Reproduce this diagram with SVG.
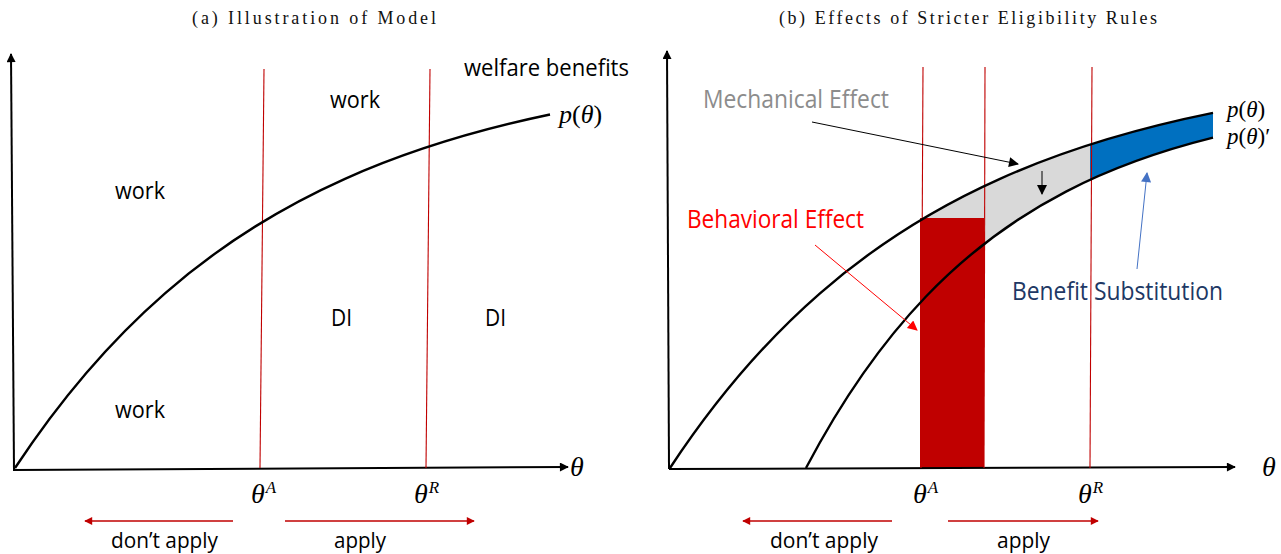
<svg xmlns="http://www.w3.org/2000/svg" width="1281" height="554" viewBox="0 0 1281 554">
<style>
.title{font-family:"Liberation Serif",serif;font-size:18px;fill:#111}
.lbl{font-family:"Open Sans","Noto Sans",sans-serif;font-size:24px;fill:#000}
.big{font-family:"Open Sans","Noto Sans",sans-serif;font-size:25px}
.small{font-family:"Open Sans","Noto Sans",sans-serif;font-size:21px;fill:#000}
.math{font-family:"Liberation Serif",serif;font-size:26px;fill:#000}
.mathb{font-family:"Liberation Serif",serif;font-size:23px;fill:#000}
.ax{font-family:"Liberation Serif",serif;font-size:28px;font-style:italic;fill:#000}
.th{font-family:"Liberation Serif",serif;font-size:28px;fill:#000}
.it{font-style:italic}
.sup{font-family:"Liberation Serif",serif;font-size:17px;font-style:italic}
.axis{stroke:#000;stroke-width:2;fill:none}
.curve{stroke:#000;stroke-width:2.4;fill:none}
.rl{stroke:#c00000;stroke-width:1.1;fill:none}
.ra{stroke:#c00000;stroke-width:1.3;fill:none}
</style>
<defs>
<marker id="ahAxis" viewBox="0 0 10 10" refX="9" refY="5" markerWidth="11" markerHeight="9" markerUnits="userSpaceOnUse" orient="auto"><path d="M0,0 L10,5 L0,10 z" fill="#000"/></marker>
<marker id="ahBlack" viewBox="0 0 10 10" refX="9" refY="5" markerWidth="12" markerHeight="10" markerUnits="userSpaceOnUse" orient="auto"><path d="M0,0 L10,5 L0,10 z" fill="#000"/></marker>
<marker id="ahRed" viewBox="0 0 10 10" refX="9" refY="5" markerWidth="9" markerHeight="8" markerUnits="userSpaceOnUse" orient="auto"><path d="M0,0 L10,5 L0,10 z" fill="#c00000"/></marker>
<marker id="ahBright" viewBox="0 0 10 10" refX="9" refY="5" markerWidth="12" markerHeight="10" markerUnits="userSpaceOnUse" orient="auto"><path d="M0,0 L10,5 L0,10 z" fill="#ff0000"/></marker>
<marker id="ahBlue" viewBox="0 0 10 10" refX="9" refY="5" markerWidth="12" markerHeight="10" markerUnits="userSpaceOnUse" orient="auto"><path d="M0,0 L10,5 L0,10 z" fill="#4472c4"/></marker>
<clipPath id="clipGray"><rect x="921" y="0" width="169" height="554"/></clipPath>
<clipPath id="clipBlue"><rect x="1090" y="0" width="123" height="554"/></clipPath>
<path id="band" d="M670,468 C720,392.1 770,336.9 820,293.3 C880,241 940,205.6 1000,178.8 C1071,147 1142,127.3 1213,112.9 L1213,137.7 C1164,149.9 1115,166.2 1066,191.6 C1019.3,215.8 972.7,247.8 926,296.5 C886,338.2 846,392 806,468 Z"/>
</defs>

<g id="titles">
<text class="title" x="192" y="24" textLength="244" lengthAdjust="spacing">(a) Illustration of Model</text>
<text class="title" x="779" y="24" textLength="378" lengthAdjust="spacing">(b) Effects of Stricter Eligibility Rules</text>
</g>

<g id="panel-a">
<g id="a-axes">
<path class="axis" d="M14,470 L11,54" marker-end="url(#ahAxis)"/>
<path class="axis" d="M13,470 L568,467" marker-end="url(#ahAxis)"/>
</g>
<g id="a-thresholds">
<path class="rl" d="M264,69 L260,468"/>
<path class="rl" d="M430,69 L426,468"/>
</g>
<path id="a-curve" class="curve" d="M15,468 C65,392.1 115,336.9 165,293.3 C225,241 285,205.6 345,178.8 C413.3,148.2 481.7,128.8 550,114.5"/>
<g id="a-labels">
<text class="lbl" x="330" y="108" textLength="50" lengthAdjust="spacingAndGlyphs">work</text>
<text class="lbl" x="115" y="199" textLength="50" lengthAdjust="spacingAndGlyphs">work</text>
<text class="lbl" x="115" y="418" textLength="50" lengthAdjust="spacingAndGlyphs">work</text>
<text class="lbl" x="331" y="326" textLength="21" lengthAdjust="spacingAndGlyphs">DI</text>
<text class="lbl" x="485" y="326" textLength="21" lengthAdjust="spacingAndGlyphs">DI</text>
<text class="lbl" x="464" y="76" textLength="165" lengthAdjust="spacingAndGlyphs">welfare benefits</text>
<text class="math" x="559" y="123"><tspan class="it">p</tspan>(<tspan class="it">θ</tspan>)</text>
<text class="ax" x="570" y="476">θ</text>
<text class="th" x="251" y="503"><tspan class="it">θ</tspan><tspan class="sup" dx="1" dy="-10">A</tspan></text>
<text class="th" x="414" y="503"><tspan class="it">θ</tspan><tspan class="sup" dx="1" dy="-10">R</tspan></text>
</g>
<g id="a-apply">
<path class="ra" d="M233,521 L85,521" marker-end="url(#ahRed)"/>
<path class="ra" d="M285,521 L474,521" marker-end="url(#ahRed)"/>
<text class="small" x="111" y="548" textLength="107" lengthAdjust="spacingAndGlyphs">don’t apply</text>
<text class="small" x="334" y="548" textLength="52" lengthAdjust="spacingAndGlyphs">apply</text>
</g>
</g>

<g id="panel-b">
<g id="b-areas">
<use href="#band" fill="#d9d9d9" clip-path="url(#clipGray)"/>
<use href="#band" fill="#0070c0" clip-path="url(#clipBlue)"/>
<rect id="b-behavioral-box" x="920" y="218" width="64" height="250" fill="#c00000"/>
</g>
<g id="b-axes">
<path class="axis" d="M669,469 L667,51" marker-end="url(#ahAxis)"/>
<path class="axis" d="M669,469 L1235,467" marker-end="url(#ahAxis)"/>
</g>
<g id="b-thresholds">
<path class="rl" d="M923,67 L921,468"/>
<path class="rl" d="M985,67 L984,468"/>
<path class="rl" d="M1092,67 L1090,468"/>
</g>
<path id="b-curve-p" class="curve" d="M670,468 C720,392.1 770,336.9 820,293.3 C880,241 940,205.6 1000,178.8 C1071,147 1142,127.3 1213,112.9"/>
<path id="b-curve-p2" class="curve" d="M806,468 C846,392 886,338.2 926,296.5 C972.7,247.8 1019.3,215.8 1066,191.6 C1115,166.2 1164,149.9 1213,137.7"/>
<g id="connectors">
<path d="M812,122 L1018,164" stroke="#000" stroke-width="1" fill="none" marker-end="url(#ahBlack)"/>
<path d="M1042,171 L1042,194" stroke="#000" stroke-width="1" fill="none" marker-end="url(#ahBlack)"/>
<path d="M815,245 L917,330" stroke="#ff0000" stroke-width="1" fill="none" marker-end="url(#ahBright)"/>
<path d="M1137,269 L1147,173" stroke="#4472c4" stroke-width="1" fill="none" marker-end="url(#ahBlue)"/>
</g>
<g id="b-labels">
<text class="big" x="703" y="108" fill="#8c8c8c" textLength="186" lengthAdjust="spacingAndGlyphs">Mechanical Effect</text>
<text class="big" x="687" y="228" fill="#ff0000" textLength="177" lengthAdjust="spacingAndGlyphs">Behavioral Effect</text>
<text class="big" x="1012" y="300" fill="#203864" textLength="211" lengthAdjust="spacingAndGlyphs">Benefit Substitution</text>
<text class="mathb" x="1227" y="117"><tspan class="it">p</tspan>(<tspan class="it">θ</tspan>)</text>
<text class="mathb" x="1227" y="144"><tspan class="it">p</tspan>(<tspan class="it">θ</tspan>)′</text>
<text class="ax" x="1262" y="476">θ</text>
<text class="th" x="913" y="503"><tspan class="it">θ</tspan><tspan class="sup" dx="1" dy="-10">A</tspan></text>
<text class="th" x="1078" y="503"><tspan class="it">θ</tspan><tspan class="sup" dx="1" dy="-10">R</tspan></text>
</g>
<g id="b-apply">
<path class="ra" d="M892,521 L743,521" marker-end="url(#ahRed)"/>
<path class="ra" d="M948,521 L1098,521" marker-end="url(#ahRed)"/>
<text class="small" x="770" y="548" textLength="108" lengthAdjust="spacingAndGlyphs">don’t apply</text>
<text class="small" x="997" y="548" textLength="53" lengthAdjust="spacingAndGlyphs">apply</text>
</g>
</g>
</svg>
